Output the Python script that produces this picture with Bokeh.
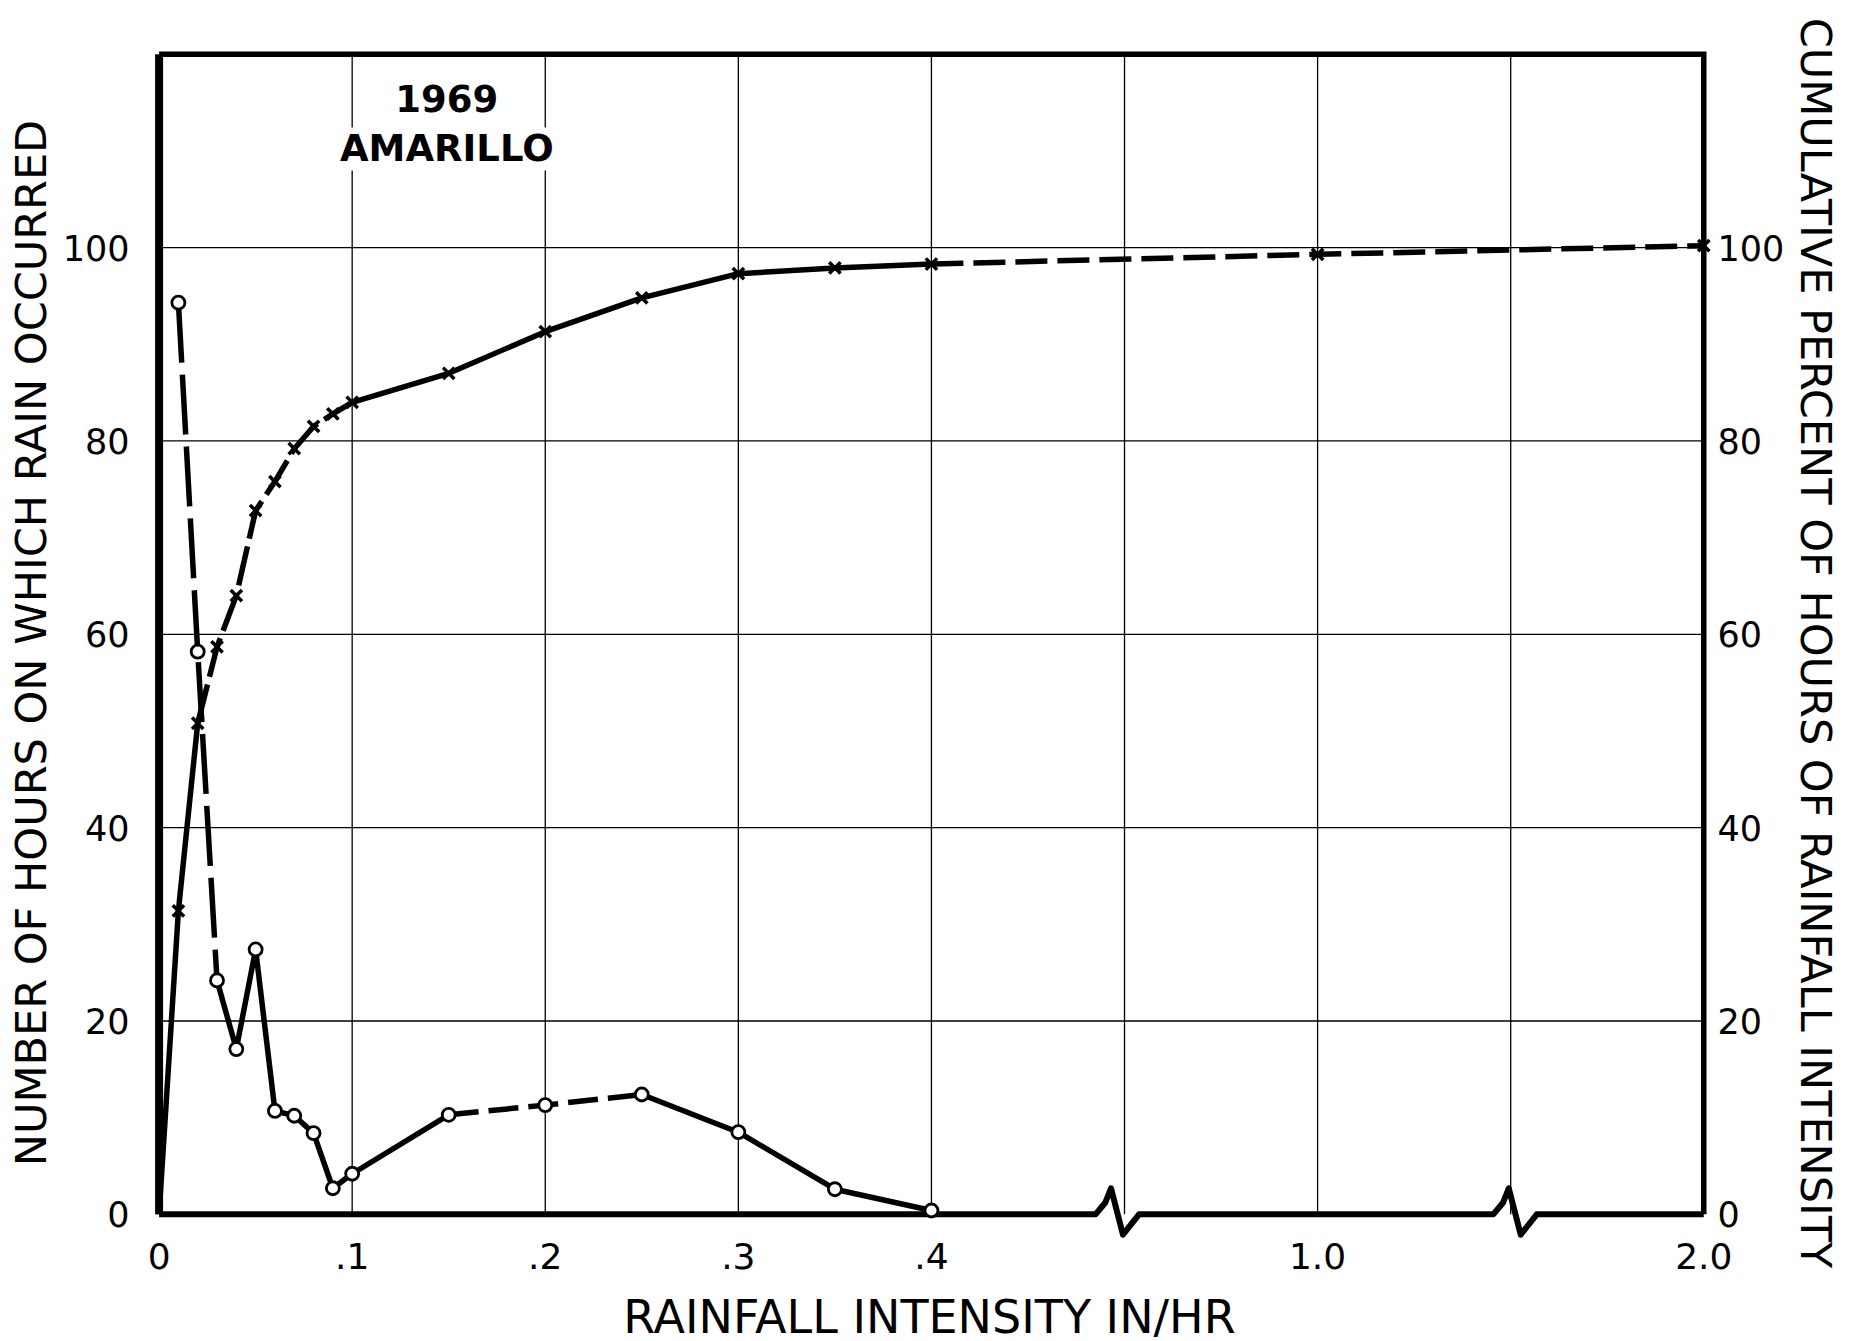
import numpy as np
from bokeh.plotting import figure
from bokeh.models import FixedTicker, LinearAxis, Range1d, Label
from bokeh.embed import file_html
from bokeh.resources import INLINE

# ---------------- data ----------------
intensity = [0.01, 0.02, 0.03, 0.04, 0.05, 0.06, 0.07, 0.08, 0.09, 0.10,
             0.15, 0.20, 0.25, 0.30, 0.35, 0.40]
hours = [94.3, 58.2, 24.2, 17.1, 27.4, 10.7, 10.2, 8.4, 2.7, 4.2,
         10.3, 11.3, 12.4, 8.5, 2.6, 0.4]

cum_intensity = [0.0, 0.01, 0.02, 0.03, 0.04, 0.05, 0.06, 0.07, 0.08, 0.09,
                 0.10, 0.15, 0.20, 0.25, 0.30, 0.35, 0.40, 1.0, 2.0]
cum_percent = [0.0, 31.4, 50.8, 58.7, 64.0, 72.8, 75.8, 79.2, 81.5, 82.8,
               84.0, 87.0, 91.3, 94.8, 97.3, 97.9, 98.3, 99.3, 100.2]

x_tick_values = [0, 0.1, 0.2, 0.3, 0.4, 1.0, 2.0]
x_tick_labels = ["0", ".1", ".2", ".3", ".4", "1.0", "2.0"]
y_tick_values = [0, 20, 40, 60, 80, 100]
y_tick_labels = ["0", "20", "40", "60", "80", "100"]

title_lines = ["1969", "AMARILLO"]
x_title = "RAINFALL INTENSITY IN/HR"
y_title_left = "NUMBER OF HOURS ON WHICH RAIN OCCURRED"
y_title_right = "CUMULATIVE PERCENT OF HOURS OF RAINFALL INTENSITY"

# ---------------- broken intensity axis ----------------
axis_knots_intensity = [0.0, 0.4, 1.0, 2.0]
axis_knots_position = [0.0, 4.0, 6.0, 8.0]


def to_pos(vals):
    return [float(np.interp(v, axis_knots_intensity, axis_knots_position)) for v in vals]


hx = to_pos(intensity)
cx = to_pos(cum_intensity)
tick_pos = to_pos(x_tick_values)

# line style per stretch of each series (start index, end index, dash)
hours_style = [(0, 2, "60 12"), (2, 10, "solid"), (10, 12, "30 10"), (12, 15, "solid")]
cum_style = [(0, 2, "solid"), (2, 10, "40 8"), (10, 16, "solid"), (16, 18, "32 10")]

# ---------------- figure ----------------
p = figure(frame_width=1564, frame_height=1193,
           x_range=Range1d(-0.06, 8.04), y_range=Range1d(-2.6, 120.8),
           output_backend="svg", toolbar_location=None,
           min_border_left=147, min_border_right=145,
           min_border_top=46, min_border_bottom=100)
p.xgrid.visible = False
p.ygrid.visible = False
p.outline_line_color = None
p.background_fill_color = "white"
p.border_fill_color = "white"

Y_MAX = 120
X_MAX = 8

# grid lines
col_lines = list(range(1, X_MAX))
p.segment(x0=col_lines, y0=[0] * len(col_lines), x1=col_lines, y1=[Y_MAX] * len(col_lines),
          line_color="black", line_width=1.3)
row_lines = y_tick_values[1:]
p.segment(x0=[0] * len(row_lines), y0=row_lines, x1=[X_MAX] * len(row_lines), y1=row_lines,
          line_color="black", line_width=1.3)

# frame (left, top, right) and bottom with break marks
p.line([0, 0], [0, Y_MAX], line_color="black", line_width=8)
p.line([0, X_MAX, X_MAX], [Y_MAX, Y_MAX, 0], line_color="black", line_width=5.5,
       line_join="miter")
break_centers = [4.93, 6.99]
break_dx = [-0.08, -0.03, 0.0, 0.062, 0.145]
break_dy = [0.0, 1.2, 2.7, -2.1, 0.0]
bx, by = [0.0], [0.0]
for b in break_centers:
    bx += [b + d for d in break_dx]
    by += break_dy
bx.append(X_MAX)
by.append(0.0)
p.line(bx, by, line_color="black", line_width=6, line_join="round")

# data lines
for i0, i1, dash in hours_style:
    p.line(hx[i0:i1 + 1], hours[i0:i1 + 1], line_color="black", line_width=5.5,
           line_dash=dash, line_join="round")
for i0, i1, dash in cum_style:
    p.line(cx[i0:i1 + 1], cum_percent[i0:i1 + 1], line_color="black", line_width=5.5,
           line_dash=dash, line_join="round")

# markers
p.scatter(hx, hours, marker="circle", size=13, fill_color="white",
          line_color="black", line_width=2.8)
p.scatter(cx[1:], cum_percent[1:], marker="x", size=16, line_color="black", line_width=3.5)

# ---------------- axes ----------------
NUM_FONT = "DejaVu Sans"
TXT_FONT = "DejaVu Sans"

xa = p.xaxis[0]
xa.ticker = FixedTicker(ticks=tick_pos)
xa.major_label_overrides = {tp: lab for tp, lab in zip(tick_pos, x_tick_labels)}
xa.axis_line_color = None
xa.major_tick_line_color = None
xa.minor_tick_line_color = None
xa.major_label_standoff = -3
xa.major_label_text_font = TXT_FONT
xa.major_label_text_font_size = "36px"
xa.major_label_text_color = "black"
xa.axis_label = x_title
xa.axis_label_text_font = TXT_FONT
xa.axis_label_text_font_size = "46px"
xa.axis_label_text_font_style = "normal"
xa.axis_label_text_color = "black"
xa.axis_label_text_line_height = 0.8
xa.axis_label_standoff = 18

ya = p.yaxis[0]
ya.ticker = FixedTicker(ticks=y_tick_values)
ya.major_label_overrides = dict(zip(y_tick_values, y_tick_labels))
ya.axis_line_color = None
ya.major_tick_line_color = None
ya.minor_tick_line_color = None
ya.major_label_standoff = 12
ya.major_label_text_font = NUM_FONT
ya.major_label_text_font_size = "35px"
ya.major_label_text_color = "black"
ya.axis_label = y_title_left
ya.axis_label_text_font = TXT_FONT
ya.axis_label_text_font_size = "43px"
ya.axis_label_text_font_style = "normal"
ya.axis_label_text_color = "black"
ya.axis_label_standoff = 4

yr = LinearAxis(ticker=FixedTicker(ticks=y_tick_values),
                major_label_overrides=dict(zip(y_tick_values, y_tick_labels)))
yr.axis_line_color = None
yr.major_tick_line_color = None
yr.minor_tick_line_color = None
yr.major_label_standoff = 0
yr.major_label_text_font = NUM_FONT
yr.major_label_text_font_size = "35px"
yr.major_label_text_color = "black"
yr.axis_label = y_title_right
yr.axis_label_text_font = TXT_FONT
yr.axis_label_text_font_size = "43px"
yr.axis_label_text_font_style = "normal"
yr.axis_label_text_color = "black"
yr.axis_label_standoff = 4
p.add_layout(yr, "right")

# in-plot title
p.add_layout(Label(x=1.49, y=115.4, text=title_lines[0], text_align="center",
                   text_baseline="middle", text_font=TXT_FONT, text_font_style="bold",
                   text_font_size="37px", text_color="black"))
p.add_layout(Label(x=1.49, y=110.2, text=title_lines[1], text_align="center",
                   text_baseline="middle", text_font=TXT_FONT, text_font_style="bold",
                   text_font_size="37px", text_color="black",
                   background_fill_color="white"))

open("out.html", "w").write(file_html(p, INLINE))
